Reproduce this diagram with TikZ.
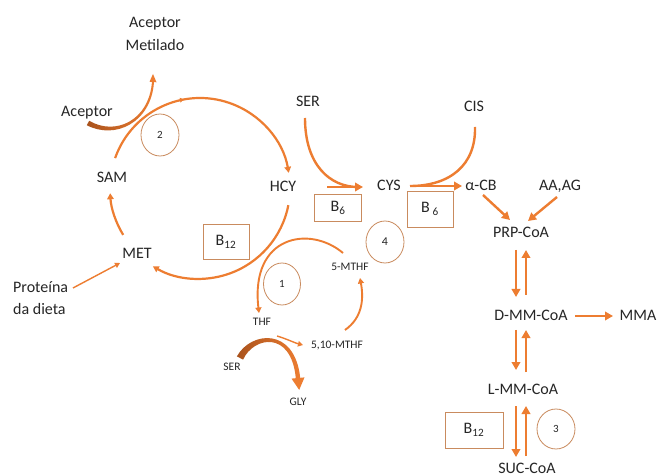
\documentclass[tikz,border=0pt]{standalone}
\usepackage{fontspec}
\setmainfont{Carlito}
\usetikzlibrary{arrows.meta,decorations.markings,shapes.geometric}
\definecolor{orn}{HTML}{ED7D31}
\definecolor{thinc}{HTML}{C98B5E}
\definecolor{dbr}{HTML}{A9521C}
\definecolor{txt}{HTML}{262626}
\begin{document}
\begin{tikzpicture}[x=1pt,y=-1pt,
  lbl/.style={font=\fontsize{16}{19}\selectfont, text=txt, inner sep=0pt, text height=10.3pt, text depth=0pt},
  sml/.style={font=\fontsize{11.5}{13}\selectfont, text=txt, inner sep=0pt, text height=7.4pt, text depth=0pt},
  numc/.style={ellipse, draw=thinc, line width=0.8pt, inner sep=0pt, text=txt, font=\fontsize{11}{12}\selectfont},
  boxn/.style={rectangle, draw=thinc, line width=0.8pt, inner sep=0pt, text=txt, font=\fontsize{16}{18}\selectfont},
  cyc/.style={draw=orn, line width=2.2pt, -{Triangle[length=6pt,width=6.5pt]}},
  arr/.style={draw=orn, line width=2.4pt, -{Triangle[length=8pt,width=8.5pt]}},
  loopa/.style={draw=orn, line width=1.9pt, -{Triangle[length=5.5pt,width=6pt]}},
  thina/.style={draw=orn, line width=1.4pt, -{Triangle[length=5pt,width=5.5pt]}},
  plain/.style={draw=orn, line width=2.4pt}
]
\useasboundingbox (0,0) rectangle (657,476);
\fill[white] (0,0) rectangle (657,476);

% ---------- labels ----------
\node[lbl] (acm1) at (155,22) {Aceptor};
\node[lbl] (acm2) at (155,45) {Metilado};
\node[lbl] (acp) at (87,111) {Aceptor};
\node[lbl] (sam) at (112,177) {SAM};
\node[lbl] (hcy) at (283,186) {HCY};
\node[lbl] (met) at (137,253) {MET};
\node[lbl, anchor=west] (prot1) at (13,287) {Proteína};
\node[lbl, anchor=west] (prot2) at (13,309) {da dieta};
\node[lbl] (ser) at (308,101) {SER};
\node[lbl] (cys) at (389,185) {CYS};
\node[lbl] (cis) at (474,106) {CIS};
\node[lbl] (acb) at (481,185) {α-CB};
\node[lbl] (aaag) at (560,185) {AA,AG};
\node[lbl] (prp) at (521,232) {PRP-CoA};
\node[lbl] (dmm) at (531,315) {D-MM-CoA};
\node[lbl] (mma) at (638,315) {MMA};
\node[lbl] (lmm) at (523,389) {L-MM-CoA};
\node[lbl] (suc) at (527,468) {SUC-CoA};

\node[sml] (mthf) at (350,267) {5-MTHF};
\node[sml] (thf) at (262,322) {THF};
\node[sml] (m510) at (337,345) {5,10-MTHF};
\node[sml] (ser2) at (232,367) {SER};
\node[sml] (gly) at (298,402) {GLY};

% ---------- circles and boxes ----------
\node[numc, minimum width=38pt, minimum height=42pt] (n2) at (160,135) {2};
\node[numc, minimum width=37pt, minimum height=42pt] (n1) at (282,284) {1};
\node[numc, minimum width=38pt, minimum height=42pt, font=\fontsize{12}{13}\selectfont] (n4) at (385,242) {4};
\node[numc, minimum width=38pt, minimum height=40pt] (n3) at (556,429) {3};

\node[boxn, minimum width=46pt, minimum height=35pt] (b12a) at (226,242) {B\textsubscript{12}};
\node[boxn, minimum width=47pt, minimum height=27pt] (b6a) at (338,208) {B\textsubscript{6}};
\node[boxn, minimum width=46pt, minimum height=36pt] (b6b) at (430,209) {B\,\textsubscript{6}};
\node[boxn, minimum width=58pt, minimum height=36pt] (b12b) at (474,430) {B\textsubscript{12}};

% ---------- methionine cycle ----------
\coordinate (cc) at (200,188);
\draw[cyc, postaction={decorate}, decoration={markings, mark=at position 0.4 with {\arrow{Triangle[length=4pt,width=4.5pt]}}}]
  ([shift={(-160.6:90)}]cc) arc[start angle=-160.6, end angle=-9.7, radius=90];
\draw[cyc] ([shift={(148.6:90)}]cc) arc[start angle=148.6, end angle=176.7, radius=90];
\draw[cyc] ([shift={(11:90)}]cc) arc[start angle=11, end angle=120.5, radius=91];

% Aceptor -> Aceptor Metilado (tapered)
\coordinate (acs) at (88,123);
\coordinate (act) at (153,74);
\shade[left color=dbr, middle color=orn!80!dbr, right color=orn]
  (89.2,120.8) .. controls (115,136) and (148.8,121.2) .. (152,81.9)
  -- (154,82.1) .. controls (151.2,122.8) and (115,140) .. (86.8,125.2) -- cycle;
\fill[orn] (149.5,81.7) -- (act) -- (156.5,82.3) -- cycle;

% Proteina -> MET
\coordinate (pr) at (73,288);
\draw[thina] (pr) -- (120,263);

% ---------- transsulfuration ----------
\coordinate (sers) at (305,118);
\coordinate (hcye) at (327,187);
\coordinate (cysw) at (363,187);
\draw[plain] (sers) .. controls (305,165) and (330,187) .. (358,187);
\draw[arr] (hcye) -- (cysw);

\coordinate (ciss) at (475,127);
\coordinate (cyse) at (410,186);
\coordinate (acbw) at (462,186);
\draw[plain] (ciss) .. controls (476,165) and (450,186) .. (cyse);
\draw[arr] (cyse) -- (acbw);

\draw[arr] (483,195) -- (510,220);
\draw[arr] (557,197) -- (528,221);

% ---------- propionate path ----------
\draw[arr] (516,250) -- (516,297);
\draw[arr] (526,295) -- (526,250);
\draw[arr] (516,330) -- (516,370);
\draw[arr] (526,372) -- (526,330);
\draw[arr] (516,406) -- (516,457);
\draw[arr] (526,456) -- (526,406);
\draw[arr] (575,316) -- (613,316);

% ---------- folate cycle ----------
\coordinate (mthfa) at (343,253);
\coordinate (thfa) at (259,313);
\draw[loopa] (mthfa) .. controls (310,225) and (250,235) .. (thfa);
\coordinate (m510a) at (345,330);
\coordinate (mthfb) at (360,278);
\draw[loopa] (m510a) .. controls (362,318) and (364,300) .. (mthfb);
\coordinate (thfb) at (277,336);
\coordinate (m510b) at (303,345);
\draw[thina] (thfb) .. controls (287,339) and (295,343) .. (m510b);

% SER -> GLY (tapered)
\coordinate (glyt) at (299.2,389.9);
\shade[left color=dbr, middle color=orn!75!dbr, right color=orn]
  (236.9,356.4) .. controls (250.5,331.4) and (294.7,326.2) .. (300.2,377.8)
  -- (295.8,378.2) .. controls (291.3,329.8) and (253.5,336.6) .. (243.1,359.6) -- cycle;
\fill[orn] (304.5,377.4) -- (glyt) -- (291.5,378.6) -- cycle;
\end{tikzpicture}
\end{document}
